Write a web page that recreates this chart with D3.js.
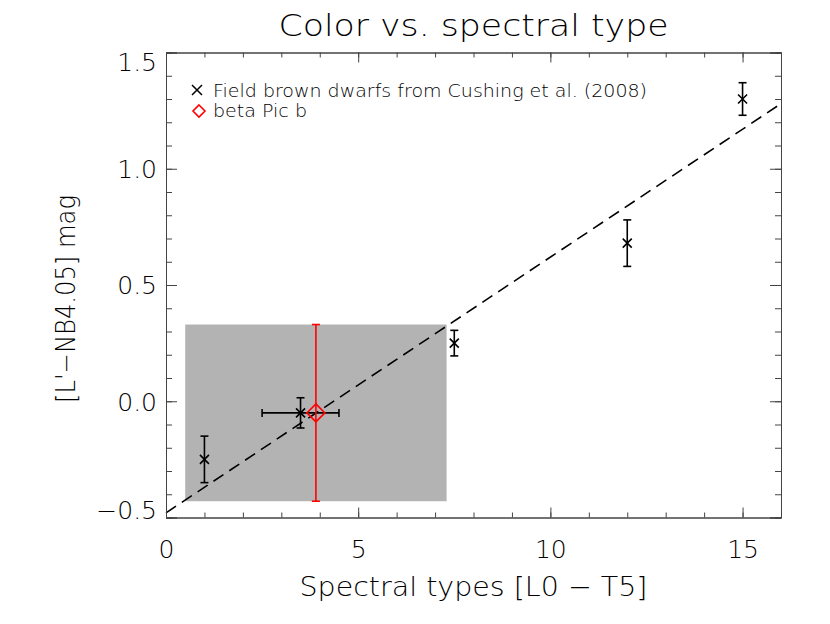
<!DOCTYPE html>
<html>
<head>
<meta charset="utf-8">
<script src="https://cdn.jsdelivr.net/npm/d3@7"></script>
<style>
  body { margin: 0; background: #fff; }
  text { font-family: "DejaVu Sans", sans-serif; font-weight: 200; fill: #000; }
  .axis path, .axis line { stroke: #444; }
</style>
</head>
<body>
<div id="plot"></div>
<script>
// field brown dwarfs (Cushing et al. 2008)
var sptBD = [1, 3.5, 7.5, 12, 15];
var colorBD = [-0.25, -0.05, 0.25, 0.68, 1.30];
var colorErrBD = [0.10, 0.065, 0.055, 0.10, 0.07];
var sptErrBD = [0, 1, 0, 0, 0];

// beta Pic b
var sptBeta = [3.9];
var colorBeta = [-0.05];
var colorErrBeta = [0.38];

// shaded box (spectral type range and colour range of beta Pic b)
var boxSpt = [0.5, 7.3];
var boxColor = [-0.43, 0.33];

// linear fit: intercept, slope
var fitCoef = [-0.48, 0.11];

var xTicks = [0, 5, 10, 15];
var yTicks = [-0.5, 0.0, 0.5, 1.0, 1.5];
var legendLabels = ["Field brown dwarfs from Cushing et al. (2008)", "beta Pic b"];

var W = 830, H = 624;
var margin = {top: 52.5, right: 49, bottom: 106.5, left: 166},
    width = W - margin.left - margin.right,
    height = H - margin.top - margin.bottom;

var svg = d3.select("#plot").append("svg")
    .attr("width", W).attr("height", H);

var g = svg.append("g")
    .attr("transform", `translate(${margin.left},${margin.top})`);

// scales
var x = d3.scaleLinear().domain([0, 16]).range([0, width]);
var y = d3.scaleLinear().domain([-0.5, 1.5]).range([height, 0]);

// grey box
g.append("rect")
    .attr("x", x(boxSpt[0]))
    .attr("y", y(boxColor[1]))
    .attr("width", x(boxSpt[1]) - x(boxSpt[0]))
    .attr("height", y(boxColor[0]) - y(boxColor[1]))
    .attr("fill", "#b3b3b3");

// dashed fit line
g.append("line")
    .attr("x1", x(0)).attr("y1", y(fitCoef[0]))
    .attr("x2", x(16)).attr("y2", y(fitCoef[0] + fitCoef[1] * 16))
    .attr("stroke", "#000")
    .attr("stroke-width", 1.6)
    .attr("stroke-dasharray", "12,7");

// axes: minor ticks then major ticks with labels
var minorX = d3.range(0, 17, 1);
var minorY = d3.range(-5, 16, 1).map(d => d / 10);

function addAxis(axis, cls, tr) {
  return g.append("g").attr("class", "axis " + cls)
      .attr("transform", tr || null)
      .call(axis);
}

addAxis(d3.axisBottom(x).tickValues(minorX).tickSize(-5).tickFormat(""), "xmin", `translate(0,${height})`);
addAxis(d3.axisTop(x).tickValues(minorX).tickSize(-5).tickFormat(""), "xmin2");
addAxis(d3.axisLeft(y).tickValues(minorY).tickSize(-6).tickFormat(""), "ymin");
addAxis(d3.axisRight(y).tickValues(minorY).tickSize(-6).tickFormat(""), "ymin2", `translate(${width},0)`);

var xAx = addAxis(d3.axisBottom(x).tickValues(xTicks).tickSize(-10).tickPadding(23).tickFormat(d3.format("d")),
    "xmaj", `translate(0,${height})`);
addAxis(d3.axisTop(x).tickValues(xTicks).tickSize(-10).tickFormat(""), "xmaj2");
var yAx = addAxis(d3.axisLeft(y).tickValues(yTicks).tickSize(-11).tickPadding(9).tickFormat(d3.format(".1f")), "ymaj");
addAxis(d3.axisRight(y).tickValues(yTicks).tickSize(-11).tickFormat(""), "ymaj2", `translate(${width},0)`);

g.selectAll(".axis text")
    .attr("font-family", "DejaVu Sans, sans-serif")
    .attr("font-size", 25)
    .attr("fill", "#000");
g.selectAll(".axis path").attr("stroke", "#444");
g.selectAll(".axis line").attr("stroke", "#444");

// IDL nudges the end labels inside the frame
yAx.selectAll("text").attr("dy", d => d === 1.5 ? "0.72em" : d === -0.5 ? "0.02em" : "0.35em");

// brown dwarf error bars
var bd = sptBD.map((s, i) => ({s: s, c: colorBD[i], ce: colorErrBD[i], se: sptErrBD[i]}));
var bars = g.append("g").attr("stroke", "#000").attr("stroke-width", 1.6);
bd.forEach(function(d) {
  var px = x(d.s), y0 = y(d.c - d.ce), y1 = y(d.c + d.ce);
  bars.append("line").attr("x1", px).attr("x2", px).attr("y1", y0).attr("y2", y1);
  bars.append("line").attr("x1", px - 4).attr("x2", px + 4).attr("y1", y0).attr("y2", y0);
  bars.append("line").attr("x1", px - 4).attr("x2", px + 4).attr("y1", y1).attr("y2", y1);
  if (d.se > 0) {
    var x0 = x(d.s - d.se), x1 = x(d.s + d.se), py = y(d.c);
    bars.append("line").attr("x1", x0).attr("x2", x1).attr("y1", py).attr("y2", py);
    bars.append("line").attr("x1", x0).attr("x2", x0).attr("y1", py - 4).attr("y2", py + 4);
    bars.append("line").attr("x1", x1).attr("x2", x1).attr("y1", py - 4).attr("y2", py + 4);
  }
  // x marker
  var r = 4.5;
  bars.append("path")
      .attr("d", `M${px - r},${y(d.c) - r}L${px + r},${y(d.c) + r}M${px - r},${y(d.c) + r}L${px + r},${y(d.c) - r}`)
      .attr("fill", "none");
});

// beta Pic b
var red = g.append("g").attr("stroke", "#ff0000").attr("stroke-width", 1.6).attr("fill", "none");
sptBeta.forEach(function(s, i) {
  var px = x(s), py = y(colorBeta[i]);
  var y0 = y(colorBeta[i] - colorErrBeta[i]), y1 = y(colorBeta[i] + colorErrBeta[i]);
  red.append("line").attr("x1", px).attr("x2", px).attr("y1", y0).attr("y2", y1);
  red.append("line").attr("x1", px - 4).attr("x2", px + 4).attr("y1", y0).attr("y2", y0);
  red.append("line").attr("x1", px - 4).attr("x2", px + 4).attr("y1", y1).attr("y2", y1);
  var r = 9;
  red.append("path")
      .attr("d", `M${px},${py - r}L${px + r},${py}L${px},${py + r}L${px - r},${py}Z`);
});

// legend
var leg = svg.append("g");
leg.append("path")
    .attr("d", "M192,85L202,95M192,95L202,85")
    .attr("stroke", "#000").attr("stroke-width", 1.5).attr("fill", "none");
leg.append("path")
    .attr("d", "M199,105L205,111L199,117L193,111Z")
    .attr("stroke", "#ff0000").attr("stroke-width", 1.6).attr("fill", "none");
leg.selectAll("text.legend")
    .data(legendLabels)
    .join("text")
    .attr("class", "legend")
    .attr("x", 213)
    .attr("y", (d, i) => 96.5 + i * 20.5)
    .attr("font-size", 17.5)
    .attr("textLength", (d, i) => i === 0 ? 434 : 94)
    .attr("lengthAdjust", "spacingAndGlyphs")
    .text(d => d);

// title and axis labels
svg.append("text")
    .attr("x", margin.left + width / 2)
    .attr("y", 36)
    .attr("text-anchor", "middle")
    .attr("font-size", 30)
    .attr("textLength", 390)
    .attr("lengthAdjust", "spacingAndGlyphs")
    .text("Color vs. spectral type");

svg.append("text")
    .attr("x", margin.left + width / 2)
    .attr("y", 596)
    .attr("text-anchor", "middle")
    .attr("font-size", 26)
    .attr("textLength", 348)
    .attr("lengthAdjust", "spacingAndGlyphs")
    .text("Spectral types [L0 \u2212 T5]");

svg.append("text")
    .attr("transform", "translate(75,403) rotate(-90)")
    .attr("text-anchor", "start")
    .attr("font-size", 26)
    .attr("textLength", 208)
    .attr("lengthAdjust", "spacingAndGlyphs")
    .text("[L'\u2212NB4.05] mag");
</script>
</body>
</html>
